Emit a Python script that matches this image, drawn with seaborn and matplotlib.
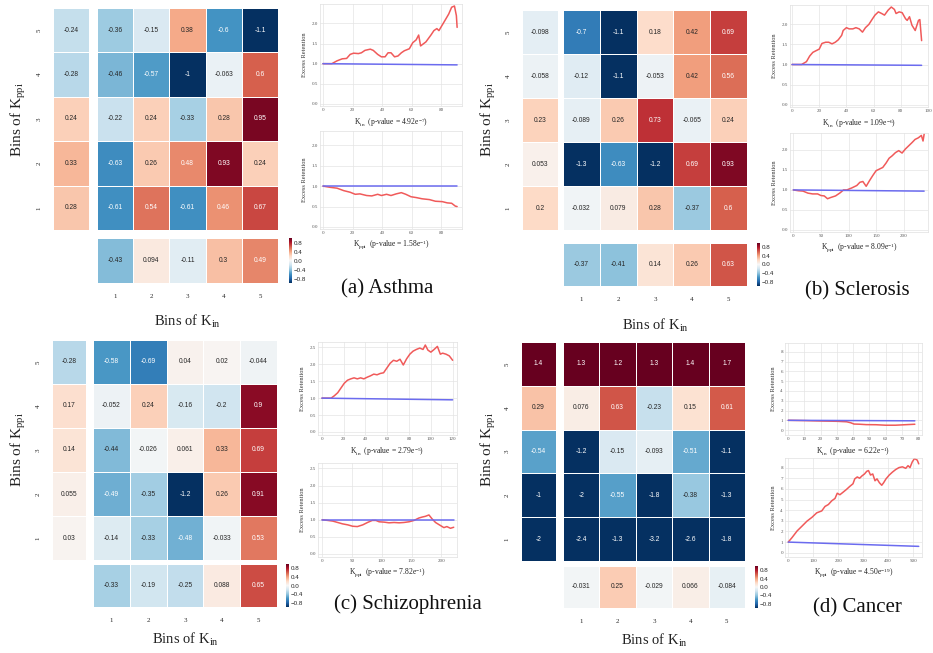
import matplotlib
matplotlib.use("Agg")
import matplotlib.pyplot as plt
import seaborn as sns
import pandas as pd

sns.set_theme(style="whitegrid")
plt.rcParams['font.family'] = ['Liberation Serif', 'DejaVu Serif']
plt.rcParams['mathtext.fontset'] = 'custom'
plt.rcParams['mathtext.rm'] = 'Liberation Serif'
plt.rcParams['mathtext.it'] = 'Liberation Serif:italic'

W, H = 933, 653

# ---------------- data ----------------
bins = ['1', '2', '3', '4', '5']
rows_top_down = ['5', '4', '3', '2', '1']
cbar_ticks = [0.8, 0.4, 0.0, -0.4, -0.8]

asthma_main = [[-0.36, -0.15, 0.38, -0.6, -1.1],
               [-0.46, -0.57, -1.0, -0.063, 0.6],
               [-0.22, 0.24, -0.33, 0.28, 0.95],
               [-0.63, 0.26, 0.48, 0.93, 0.24],
               [-0.61, 0.54, -0.61, 0.46, 0.67]]
asthma_ppi = [-0.24, -0.28, 0.24, 0.33, 0.28]
asthma_in = [-0.43, 0.094, -0.11, 0.3, 0.49]

sclerosis_main = [[-0.7, -1.1, 0.18, 0.42, 0.69],
                  [-0.12, -1.1, -0.053, 0.42, 0.56],
                  [-0.089, 0.26, 0.73, -0.065, 0.24],
                  [-1.3, -0.63, -1.2, 0.69, 0.93],
                  [-0.032, 0.079, 0.28, -0.37, 0.6]]
sclerosis_ppi = [-0.098, -0.058, 0.23, 0.053, 0.2]
sclerosis_in = [-0.37, -0.41, 0.14, 0.26, 0.63]

schizo_main = [[-0.58, -0.69, 0.04, 0.02, -0.044],
               [-0.052, 0.24, -0.16, -0.2, 0.9],
               [-0.44, -0.026, 0.061, 0.33, 0.69],
               [-0.49, -0.35, -1.2, 0.26, 0.91],
               [-0.14, -0.33, -0.48, -0.033, 0.53]]
schizo_ppi = [-0.28, 0.17, 0.14, 0.055, 0.03]
schizo_in = [-0.33, -0.19, -0.25, 0.088, 0.65]

cancer_main = [[1.3, 1.2, 1.3, 1.4, 1.7],
               [0.076, 0.63, -0.23, 0.15, 0.61],
               [-1.2, -0.15, -0.093, -0.51, -1.1],
               [-2.0, -0.55, -1.8, -0.38, -1.3],
               [-2.4, -1.3, -3.2, -2.6, -1.8]]
cancer_ppi = [1.4, 0.29, -0.54, -1.0, -2.0]
cancer_in = [-0.031, 0.25, -0.029, 0.066, -0.084]

# excess retention curves (red) and random baseline (blue)
asthma_kin_x = [0, 6, 9.5, 13, 16, 18.4, 20.7, 24, 26, 28.4, 32, 34, 37, 39.5, 42, 44, 46, 48.4, 50.7, 53,
                55, 58.4, 60.7, 63, 64.7, 66, 69.6, 73, 75, 77, 78.4, 81.8, 85, 87, 88.9, 90.2, 90.7]
asthma_kin_y = [1.0, 1.0, 1.07, 1.12, 1.13, 1.23, 1.26, 1.25, 1.27, 1.33, 1.36, 1.33, 1.23, 1.17, 1.17, 1.27,
                1.27, 1.17, 1.19, 1.27, 1.32, 1.37, 1.52, 1.59, 1.71, 1.44, 1.54, 1.71, 1.82, 1.87, 1.82, 2.03,
                2.23, 2.4, 2.43, 2.19, 1.9]
asthma_kin_base_x = [0, 90.7]
asthma_kin_base_y = [1.0, 0.97]

asthma_kppi_x = [0, 5, 9.5, 14, 18.4, 21.8, 25, 29.5, 33, 37, 39.5, 43, 46, 49.5, 53, 56, 59.5, 63, 67, 72,
                 76, 80.7, 84, 87, 89.5, 90.7]
asthma_kppi_y = [1.0, 0.97, 0.95, 0.89, 0.85, 0.8, 0.81, 0.77, 0.76, 0.8, 0.77, 0.8, 0.77, 0.81, 0.84, 0.8,
                 0.74, 0.72, 0.69, 0.67, 0.63, 0.62, 0.59, 0.58, 0.51, 0.5]
asthma_kppi_base_x = [0, 90.7]
asthma_kppi_base_y = [1.0, 1.0]

scl_kin_x = [0, 7, 10.6, 13, 15.3, 17.6, 20, 22, 24.7, 27, 29.4, 31.8, 34, 36.5, 37.6, 40, 42, 44.7, 47, 49.4,
             51.8, 54, 56.5, 58.8, 61, 63.5, 65.9, 68, 70.6, 73, 75.3, 76.5, 78.8, 81, 83.5, 84.7, 86.4, 88.2,
             90.6, 93, 94, 95.3]
scl_kin_y = [1.0, 1.0, 1.07, 1.21, 1.3, 1.34, 1.38, 1.52, 1.55, 1.55, 1.51, 1.55, 1.61, 1.72, 1.84, 1.91,
             1.88, 1.88, 1.91, 1.88, 1.8, 1.91, 1.99, 2.11, 2.22, 2.3, 2.26, 2.22, 2.34, 2.42, 2.36, 2.26, 2.3,
             2.28, 2.13, 2.09, 2.18, 1.97, 1.84, 2.09, 2.11, 1.59]
scl_kin_base_x = [0, 95.3]
scl_kin_base_y = [1.0, 0.98]

scl_kppi_x = [0, 9, 17.6, 26.5, 35, 44, 50, 56, 62, 67.6, 76.5, 85, 91, 97, 106, 115, 120.6, 126, 132, 138,
              144, 150, 156, 162, 168, 173.5, 179, 185, 191, 197, 203, 209, 215, 220.6, 226.5, 232, 235, 237]
scl_kppi_y = [1.0, 0.98, 0.97, 0.92, 0.9, 0.9, 0.86, 0.85, 0.78, 0.81, 0.85, 0.93, 1.0, 1.0, 1.05, 1.11,
              1.19, 1.21, 1.09, 1.23, 1.36, 1.48, 1.52, 1.56, 1.67, 1.79, 1.85, 1.93, 1.98, 1.92, 2.02, 2.1,
              2.18, 2.26, 2.3, 2.36, 2.22, 2.39]
scl_kppi_base_x = [0, 237]
scl_kppi_base_y = [1.0, 0.97]

sch_kin_x = [0, 8.4, 11.4, 14.5, 17.5, 20.5, 23.5, 26.5, 29.5, 32.5, 35.5, 38.5, 41.6, 44.6, 47.6, 50.6,
             53.6, 56.6, 59.6, 62.6, 65.7, 68.7, 71.7, 74.7, 77.7, 80.7, 83.7, 86.7, 89.8, 92.8, 94.9, 97.3,
             100, 103, 106, 108.7, 110.8, 113.9, 116.9, 120]
sch_kin_y = [1.0, 1.0, 1.07, 1.16, 1.3, 1.44, 1.53, 1.57, 1.6, 1.57, 1.6, 1.57, 1.62, 1.66, 1.71, 1.69,
             1.73, 1.75, 1.89, 2.03, 2.12, 2.09, 2.15, 1.98, 2.16, 2.3, 2.39, 2.44, 2.48, 2.44, 2.57, 2.42,
             2.36, 2.44, 2.53, 2.3, 2.33, 2.3, 2.25, 2.12]
sch_kin_base_x = [0, 120]
sch_kin_base_y = [1.0, 0.95]

sch_kppi_x = [0, 9.4, 17.8, 26, 34, 43, 51, 59, 68, 76, 84, 90, 95.5, 104, 112, 120.5, 129, 137, 145.5, 154,
              162, 168, 173, 179, 184, 190, 195.5, 204, 209, 215, 220.5]
sch_kppi_y = [1.0, 0.98, 0.96, 0.92, 0.88, 0.85, 0.81, 0.8, 0.85, 0.92, 0.98, 0.98, 0.94, 0.93, 0.91, 0.92,
              0.91, 0.92, 0.94, 0.98, 1.05, 1.08, 1.1, 1.14, 1.03, 0.92, 0.86, 0.77, 0.8, 0.75, 0.78]
sch_kppi_base_x = [0, 220.5]
sch_kppi_base_y = [1.0, 1.0]

can_kin_x = [0, 10, 20, 30, 36, 38.5, 40.5, 44, 48, 54, 60, 66, 72, 78]
can_kin_y = [1.0, 0.97, 0.93, 0.9, 0.85, 0.75, 0.62, 0.6, 0.56, 0.55, 0.5, 0.5, 0.55, 0.6]
can_kin_base_x = [0, 78]
can_kin_base_y = [1.0, 0.95]

can_kppi_x = [0, 16, 35.5, 55, 75, 95, 114, 134, 147, 160.5, 174, 187, 196, 206.6, 220, 233, 246, 259, 266,
              276, 285.5, 295, 305, 314, 321, 329, 338, 347, 355, 364.5, 374, 381.6, 391, 404, 417, 430, 443,
              456.6, 470, 479, 487, 496, 505, 516, 522]
can_kppi_y = [1.0, 1.45, 2.05, 2.5, 2.97, 3.33, 3.75, 3.93, 4.35, 4.53, 4.88, 5.1, 5.59, 5.45, 5.7, 5.95,
              6.23, 6.48, 6.94, 7.12, 7.0, 7.22, 7.4, 7.65, 7.72, 7.3, 7.4, 6.76, 6.94, 6.58, 6.34, 6.58, 6.94,
              7.3, 7.58, 7.82, 8.0, 8.07, 7.93, 8.18, 8.0, 8.53, 8.85, 8.7, 8.35]
can_kppi_base_x = [0, 522]
can_kppi_base_y = [1.0, 0.6]

# ---------------- helpers ----------------
fig = plt.figure(figsize=(W / 100, H / 100), dpi=100)
fig.patch.set_facecolor('white')


def axpx(x0, y0, x1, y1):
    return fig.add_axes([x0 / W, 1 - y1 / H, (x1 - x0) / W, (y1 - y0) / H])


def tpx(x, y, s, **kw):
    fig.text(x / W, 1 - y / H, s, **kw)


HM = dict(cmap='RdBu_r', vmin=-1, vmax=1, annot=True, fmt='.2g',
          annot_kws={'size': 4.8, 'family': 'Liberation Sans'},
          linewidths=0.4, linecolor='white')


def draw_heat(boxes, main, ppi, kin):
    lm, mn, bt, cb = boxes
    a1 = axpx(*lm)
    df_ppi = pd.DataFrame({'ppi': ppi}, index=rows_top_down)
    sns.heatmap(df_ppi, ax=a1, cbar=False, xticklabels=False, yticklabels=True, **HM)
    a1.set_yticklabels(rows_top_down, rotation=90, fontsize=5, va='center')
    a1.tick_params(axis='y', length=0, pad=8)
    a1.set_ylabel('')
    a2 = axpx(*mn)
    df_main = pd.DataFrame(main, index=rows_top_down, columns=bins)
    sns.heatmap(df_main, ax=a2, cbar=False, xticklabels=False, yticklabels=False, **HM)
    a3 = axpx(*bt)
    ca = axpx(*cb)
    df_in = pd.DataFrame([kin], index=['in'], columns=bins)
    sns.heatmap(df_in, ax=a3, cbar=True, cbar_ax=ca, cbar_kws={'ticks': cbar_ticks},
                xticklabels=True, yticklabels=False, **HM)
    a3.set_xticklabels(bins, rotation=0, fontsize=5)
    a3.tick_params(axis='x', length=0, pad=8)
    ca.tick_params(labelsize=4.5, length=0, pad=1)
    for t in ca.get_yticklabels():
        t.set_family('Liberation Sans')
    for a in (a1, a2, a3):
        a.grid(False)


def draw_line(box, rx, ry, bx, by, xlim, ylim, xticks, yticks, xlabel):
    ax = axpx(*box)
    sns.lineplot(x=rx, y=ry, ax=ax, color='#f05a5a', lw=1.1, sort=False, estimator=None)
    sns.lineplot(x=bx, y=by, ax=ax, color='#6b6bef', lw=1.1, sort=False, estimator=None)
    ax.set_xlim(*xlim)
    ax.set_ylim(*ylim)
    ax.set_xticks(xticks)
    ax.set_yticks(yticks)
    ax.tick_params(labelsize=3.6, length=0, pad=1.5, colors='#555555')
    ax.grid(True, color='#e4e4e4', lw=0.5)
    for s in ax.spines.values():
        s.set_color('#e0e0e0')
        s.set_linewidth(0.5)
    ax.set_xlabel(xlabel, fontsize=5.5, labelpad=2.5, color='#222222')
    ax.set_ylabel('Excess Retention', fontsize=4.6, labelpad=3, color='#333333')
    return ax


y1 = [0, 0.5, 1.0, 1.5, 2.0]
y25 = [0, 0.5, 1.0, 1.5, 2.0, 2.5]
y8 = list(range(0, 9))

panels = [
    dict(heat=((53, 8, 89, 230), (97, 8, 278, 230), (97, 238, 278, 283), (289, 238, 292, 283)),
         data=(asthma_main, asthma_ppi, asthma_in),
         l1=((320, 4, 462, 106), asthma_kin_x, asthma_kin_y, asthma_kin_base_x, asthma_kin_base_y,
             (-2, 94), (-0.05, 2.48), [0, 20, 40, 60, 80], y1,
             'K$_{\\mathrm{in}}$  (p-value = 4.92e$^{-7}$)'),
         l2=((320, 131, 462, 229), asthma_kppi_x, asthma_kppi_y, asthma_kppi_base_x, asthma_kppi_base_y,
             (-2, 94), (-0.05, 2.35), [0, 20, 40, 60, 80], y1,
             'K$_{\\mathrm{ppi}}$  (p-value = 1.58e$^{-1}$)'),
         ylab=(18, 120), xlab=(187, 321), title=(387, 289, '(a) Asthma')),
    dict(heat=((522, 10, 558, 230), (563, 10, 747, 230), (563, 243, 747, 286), (757, 243, 760, 286)),
         data=(sclerosis_main, sclerosis_ppi, sclerosis_in),
         l1=((790, 5, 928, 107), scl_kin_x, scl_kin_y, scl_kin_base_x, scl_kin_base_y,
             (-1.5, 100), (-0.05, 2.47), [0, 20, 40, 60, 80, 100], y1,
             'K$_{\\mathrm{in}}$  (p-value = 1.09e$^{-6}$)'),
         l2=((790, 133, 928, 232), scl_kppi_x, scl_kppi_y, scl_kppi_base_x, scl_kppi_base_y,
             (-6, 244), (-0.05, 2.42), [0, 50, 100, 150, 200], y1,
             'K$_{\\mathrm{ppi}}$  (p-value = 8.09e$^{-1}$)'),
         ylab=(488, 120), xlab=(655, 325), title=(857, 291, '(b) Sclerosis')),
    dict(heat=((52, 340, 86, 560), (93, 340, 277, 560), (93, 564, 277, 607), (286, 564, 289, 607)),
         data=(schizo_main, schizo_ppi, schizo_in),
         l1=((318, 342, 457, 435), sch_kin_x, sch_kin_y, sch_kin_base_x, sch_kin_base_y,
             (-3.6, 124), (-0.09, 2.66), [0, 20, 40, 60, 80, 100, 120], y25,
             'K$_{\\mathrm{in}}$  (p-value = 2.79e$^{-5}$)'),
         l2=((318, 463, 457, 557), sch_kppi_x, sch_kppi_y, sch_kppi_base_x, sch_kppi_base_y,
             (-7, 226), (-0.09, 2.66), [0, 50, 100, 150, 200], y25,
             'K$_{\\mathrm{ppi}}$  (p-value = 7.82e$^{-1}$)'),
         ylab=(18, 450), xlab=(185, 639), title=(408, 604, '(c) Schizophrenia')),
    dict(heat=((521, 342, 556, 561), (563, 342, 745, 561), (563, 566, 745, 608), (755, 566, 758, 608)),
         data=(cancer_main, cancer_ppi, cancer_in),
         l1=((785, 343, 922, 435), can_kin_x, can_kin_y, can_kin_base_x, can_kin_base_y,
             (-2, 82.4), (-0.5, 8.9), [0, 10, 20, 30, 40, 50, 60, 70, 80], y8,
             'K$_{\\mathrm{in}}$  (p-value = 6.22e$^{-1}$)'),
         l2=((785, 458, 922, 557), can_kppi_x, can_kppi_y, can_kppi_base_x, can_kppi_base_y,
             (-13, 535), (-0.4, 8.9), [0, 100, 200, 300, 400, 500], y8,
             'K$_{\\mathrm{ppi}}$  (p-value = 4.50e$^{-19}$)'),
         ylab=(488, 450), xlab=(654, 640), title=(857, 608, '(d) Cancer')),
]

for p in panels:
    draw_heat(p['heat'], *p['data'])
    draw_line(*p['l1'])
    draw_line(*p['l2'])
    tpx(p['ylab'][0], p['ylab'][1], 'Bins of K$_{\\mathrm{ppi}}$', rotation=90, ha='center', va='center',
        fontsize=11, color='#222222')
    tpx(p['xlab'][0], p['xlab'][1], 'Bins of K$_{\\mathrm{in}}$', ha='center', va='center',
        fontsize=10.5, color='#222222')
    tpx(p['title'][0], p['title'][1], p['title'][2], ha='center', va='center', fontsize=15,
        color='#111111')

fig.savefig('out.png', dpi=100, facecolor='white')
